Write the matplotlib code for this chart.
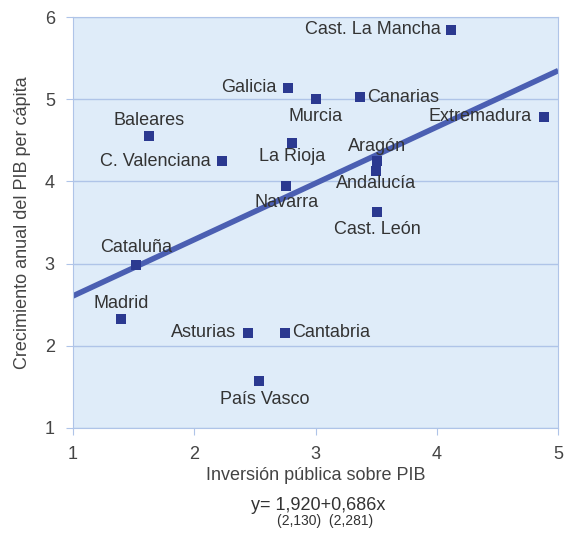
import numpy as np
import matplotlib
matplotlib.use("Agg")
import matplotlib.pyplot as plt

plt.rcParams['font.family'] = ['Liberation Sans', 'DejaVu Sans']

regions = ["Cast. La Mancha", "Galicia", "Murcia", "Canarias", "Extremadura",
           "Baleares", "La Rioja", "C. Valenciana", "Aragón", "Andalucía",
           "Navarra", "Cast. León", "Cataluña", "Madrid", "Asturias",
           "Cantabria", "País Vasco"]
inversion = [4.12, 2.77, 3.00, 3.37, 4.88, 1.63, 2.81, 2.23, 3.51, 3.50,
             2.76, 3.51, 1.52, 1.40, 2.44, 2.75, 2.53]
crecimiento = [5.85, 5.14, 5.00, 5.03, 4.79, 4.55, 4.47, 4.25, 4.25, 4.13,
               3.95, 3.63, 2.98, 2.32, 2.16, 2.16, 1.57]

# regression y = a + b x
a, b = 1.920, 0.686

# where each label sits relative to its point (pixels, alignment)
label_pos = {
    "Cast. La Mancha": (-11, 0, "right"),
    "Galicia": (-11, 0, "right"),
    "Murcia": (0, -17, "center"),
    "Canarias": (7, -1, "left"),
    "Extremadura": (-12, 0, "right"),
    "Baleares": (0, 16, "center"),
    "La Rioja": (0, -14, "center"),
    "C. Valenciana": (-12, -1, "right"),
    "Aragón": (0, 14, "center"),
    "Andalucía": (0, -13, "center"),
    "Navarra": (0, -17, "center"),
    "Cast. León": (0, -18, "center"),
    "Cataluña": (0, 18, "center"),
    "Madrid": (0, 16, "center"),
    "Asturias": (-12, 0, "right"),
    "Cantabria": (7, 0, "left"),
    "País Vasco": (6, -18, "center"),
}

fig = plt.figure(figsize=(5.65, 5.55), dpi=100)
ax = fig.add_axes([0.129, 0.229, 0.859, 0.740])
ax.set_facecolor("#dfecf9")

ax.set_xlim(1, 5)
ax.set_ylim(1, 6)
ax.set_xticks([1, 2, 3, 4, 5])
ax.set_yticks([1, 2, 3, 4, 5, 6])
ax.grid(axis="y", color="#afc4e8", linewidth=1)
ax.set_axisbelow(True)
for s in ax.spines.values():
    s.set_color("#afc4e8")
ax.tick_params(colors="#afc4e8", labelcolor="#444444", labelsize=13, length=5, pad=8)

xs = np.array([1, 5])
ax.plot(xs, a + b * xs, color="#4b5fb2", linewidth=4, solid_capstyle="butt", zorder=2)
ax.scatter(inversion, crecimiento, marker="s", s=55, color="#2b3990", zorder=3, linewidths=0)

for name, x, y in zip(regions, inversion, crecimiento):
    dx, dy, ha = label_pos[name]
    ax.annotate(name, (x, y), xytext=(dx, dy), textcoords="offset pixels",
                ha=ha, va="center", fontsize=13, color="#333333", zorder=4)

ax.set_xlabel("Inversión pública sobre PIB", fontsize=13, color="#444444", labelpad=3)
ax.set_ylabel("Crecimiento anual del PIB per cápita", fontsize=13, color="#444444", labelpad=10)

fig.text(0.563, 0.089, "y= 1,920+0,686x", ha="center", va="center", fontsize=13, color="#333333")
fig.text(0.575, 0.061, "(2,130)  (2,281)", ha="center", va="center", fontsize=10, color="#333333")

fig.savefig("out.png", dpi=100)
